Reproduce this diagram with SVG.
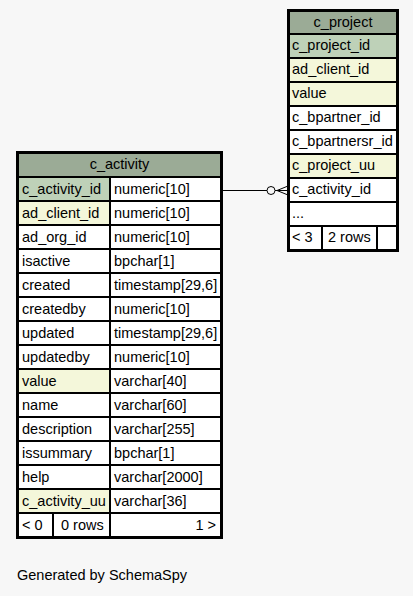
<svg xmlns="http://www.w3.org/2000/svg" width="413" height="596" viewBox="0 0 413 596">
<style>
text{font-family:"Liberation Sans",Arial,sans-serif;font-size:14.5px;fill:#000}
.c{stroke:#000;stroke-width:1}
.o{fill:none;stroke:#000;stroke-width:2}
.h{fill:#9bab96}
.pk{fill:#bed1b8}
.ix{fill:#f4f7da}
.w{fill:#ffffff}
.m{text-anchor:middle}
.e{text-anchor:end}
.ln{fill:none;stroke:#000;stroke-width:1}
</style>
<rect width="413" height="596" fill="#f7f7f7"/>
<g id="edges">
<line class="ln" x1="222" y1="190.5" x2="267" y2="190.5"/>
<circle class="ln" cx="271" cy="190.5" r="4"/>
<line class="ln" x1="275" y1="190.5" x2="288" y2="190.5"/>
<polyline class="ln" points="288,186 277,190.5 288,195"/>
</g>
<g id="c_project">
<rect class="c h" x="289.5" y="11.5" width="107" height="22"/>
<text class="m" x="343" y="27">c_project</text>
<rect class="c pk" x="289.5" y="34.5" width="107" height="23"/>
<text x="292" y="50">c_project_id</text>
<rect class="c ix" x="289.5" y="58.5" width="107" height="23"/>
<text x="292" y="74">ad_client_id</text>
<rect class="c ix" x="289.5" y="82.5" width="107" height="23"/>
<text x="292" y="98">value</text>
<rect class="c w" x="289.5" y="106.5" width="107" height="23"/>
<text x="292" y="122">c_bpartner_id</text>
<rect class="c w" x="289.5" y="130.5" width="107" height="23"/>
<text x="292" y="146">c_bpartnersr_id</text>
<rect class="c ix" x="289.5" y="154.5" width="107" height="23"/>
<text x="292" y="170">c_project_uu</text>
<rect class="c w" x="289.5" y="178.5" width="107" height="23"/>
<text x="292" y="194">c_activity_id</text>
<rect class="c w" x="289.5" y="202.5" width="107" height="23"/>
<text x="292" y="218">...</text>
<rect class="c w" x="289.5" y="226.5" width="32" height="23"/>
<text x="292" y="242">&lt; 3</text>
<rect class="c w" x="322.5" y="226.5" width="54" height="23"/>
<text x="328" y="242">2 rows</text>
<rect class="c w" x="377.5" y="226.5" width="19" height="23"/>
<rect class="o" x="288" y="10" width="110" height="241"/>
</g>
<g id="c_activity">
<rect class="c h" x="18.5" y="153.5" width="202" height="23"/>
<text class="m" x="119.5" y="169">c_activity</text>
<rect class="c pk" x="18.5" y="177.5" width="91" height="23"/><rect class="c w" x="110.5" y="177.5" width="110" height="23"/>
<text x="22" y="194">c_activity_id</text><text x="114" y="194">numeric[10]</text>
<rect class="c ix" x="18.5" y="201.5" width="91" height="23"/><rect class="c w" x="110.5" y="201.5" width="110" height="23"/>
<text x="22" y="218">ad_client_id</text><text x="114" y="218">numeric[10]</text>
<rect class="c w" x="18.5" y="225.5" width="91" height="23"/><rect class="c w" x="110.5" y="225.5" width="110" height="23"/>
<text x="22" y="242">ad_org_id</text><text x="114" y="242">numeric[10]</text>
<rect class="c w" x="18.5" y="249.5" width="91" height="23"/><rect class="c w" x="110.5" y="249.5" width="110" height="23"/>
<text x="22" y="266">isactive</text><text x="114" y="266">bpchar[1]</text>
<rect class="c w" x="18.5" y="273.5" width="91" height="23"/><rect class="c w" x="110.5" y="273.5" width="110" height="23"/>
<text x="22" y="290">created</text><text x="114" y="290">timestamp[29,6]</text>
<rect class="c w" x="18.5" y="297.5" width="91" height="23"/><rect class="c w" x="110.5" y="297.5" width="110" height="23"/>
<text x="22" y="314">createdby</text><text x="114" y="314">numeric[10]</text>
<rect class="c w" x="18.5" y="321.5" width="91" height="23"/><rect class="c w" x="110.5" y="321.5" width="110" height="23"/>
<text x="22" y="338">updated</text><text x="114" y="338">timestamp[29,6]</text>
<rect class="c w" x="18.5" y="345.5" width="91" height="23"/><rect class="c w" x="110.5" y="345.5" width="110" height="23"/>
<text x="22" y="362">updatedby</text><text x="114" y="362">numeric[10]</text>
<rect class="c ix" x="18.5" y="369.5" width="91" height="23"/><rect class="c w" x="110.5" y="369.5" width="110" height="23"/>
<text x="22" y="386">value</text><text x="114" y="386">varchar[40]</text>
<rect class="c w" x="18.5" y="393.5" width="91" height="23"/><rect class="c w" x="110.5" y="393.5" width="110" height="23"/>
<text x="22" y="410">name</text><text x="114" y="410">varchar[60]</text>
<rect class="c w" x="18.5" y="417.5" width="91" height="23"/><rect class="c w" x="110.5" y="417.5" width="110" height="23"/>
<text x="22" y="434">description</text><text x="114" y="434">varchar[255]</text>
<rect class="c w" x="18.5" y="441.5" width="91" height="23"/><rect class="c w" x="110.5" y="441.5" width="110" height="23"/>
<text x="22" y="458">issummary</text><text x="114" y="458">bpchar[1]</text>
<rect class="c w" x="18.5" y="465.5" width="91" height="23"/><rect class="c w" x="110.5" y="465.5" width="110" height="23"/>
<text x="22" y="482">help</text><text x="114" y="482">varchar[2000]</text>
<rect class="c ix" x="18.5" y="489.5" width="91" height="23"/><rect class="c w" x="110.5" y="489.5" width="110" height="23"/>
<text x="22" y="506">c_activity_uu</text><text x="114" y="506">varchar[36]</text>
<rect class="c w" x="18.5" y="513.5" width="34" height="23"/><rect class="c w" x="53.5" y="513.5" width="56" height="23"/><rect class="c w" x="110.5" y="513.5" width="110" height="23"/>
<text x="22" y="530">&lt; 0</text><text x="61" y="530">0 rows</text><text class="e" x="216" y="530">1 &gt;</text>
<rect class="o" x="17" y="152" width="205" height="386"/>
</g>
<text x="17" y="580">Generated by SchemaSpy</text>
</svg>
